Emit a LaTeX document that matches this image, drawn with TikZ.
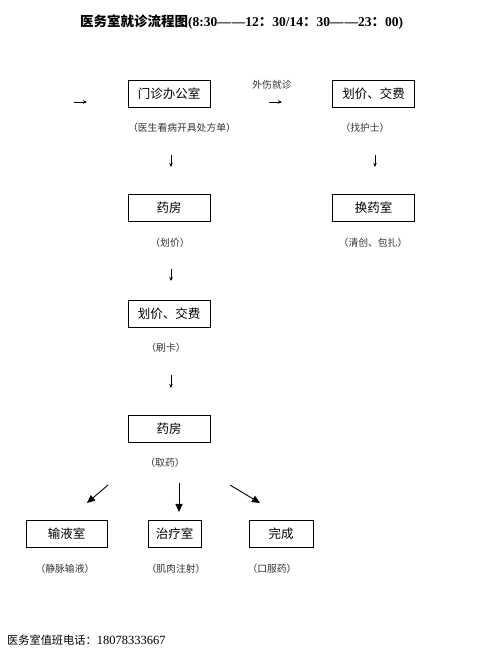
\documentclass[tikz,border=0pt]{standalone}
\usepackage{fontspec}
\setmainfont{Liberation Serif}
\newfontfamily\cjk{Noto Sans CJK SC}
\usetikzlibrary{arrows.meta}
\begin{document}
\begin{tikzpicture}[x=1pt,y=1pt,
  box/.style={draw, line width=0.8pt, minimum height=27pt, inner sep=0pt,
    font=\cjk\fontsize{12.5}{14}\selectfont},
  lbl/.style={font=\cjk\fontsize{9.8}{11}\selectfont, text=black!80, inner sep=0pt},
  sarr/.style={-{Stealth[length=4pt,width=3.5pt]}, line width=0.6pt},
  barr/.style={-{Triangle[length=8pt,width=7pt]}, line width=0.9pt}]
\useasboundingbox (0,0) rectangle (489,659);

% title
\node[anchor=west, inner sep=0pt] (title) at (80,637)
  {{\cjk\bfseries\fontsize{13.5}{15}\selectfont 医务室就诊流程图}{\bfseries\fontsize{13.5}{15}\selectfont (8:30—\kern1pt—12{\cjk ：}30/14{\cjk ：}30—\kern1pt—23{\cjk ：}00)}};

% boxes
\node[box, minimum width=82pt] (mz)  at (169,565.5) {门诊办公室};
\node[box, minimum width=82pt] (jf1) at (373.5,565.5) {划价、交费};
\node[box, minimum width=82pt] (yf1) at (169,451) {药房};
\node[box, minimum width=82pt] (hy)  at (373.5,451) {换药室};
\node[box, minimum width=82pt] (jf2) at (169,345) {划价、交费};
\node[box, minimum width=82pt] (yf2) at (169,230.5) {药房};
\node[box, minimum width=81pt] (sy)  at (66.5,125) {输液室};
\node[box, minimum width=53pt] (zl)  at (174.5,125) {治疗室};
\node[box, minimum width=64pt] (wc)  at (281,125) {完成};

% labels
\node[lbl] (l1) at (182,531) {（医生看病开具处方单）};
\node[lbl] (l2) at (365,531) {（找护士）};
\node[lbl] (ws) at (272,574) {外伤就诊};
\node[lbl] (l3) at (170,416) {（划价）};
\node[lbl] (l4) at (373,416) {（清创、包扎）};
\node[lbl] (l5) at (166,311) {（刷卡）};
\node[lbl] (l6) at (165,196) {（取药）};
\node[lbl] (l7) at (65,90) {（静脉输液）};
\node[lbl] (l8) at (176,90) {（肌肉注射）};
\node[lbl] (l9) at (272,90) {（口服药）};

% footer
\node[anchor=west, inner sep=0pt] (tel) at (7,19)
  {{\cjk\fontsize{11.2}{13}\selectfont 医务室值班电话：}{\fontsize{12.5}{14}\selectfont 18078333667}};

% small arrows
\coordinate (a1s) at (74,557); \coordinate (a1e) at (87,557);
\coordinate (a2s) at (269,557); \coordinate (a2e) at (282,557);
\coordinate (a3s) at (171,504); \coordinate (a3e) at (171,492);
\coordinate (a4s) at (375,504); \coordinate (a4e) at (375,492);
\coordinate (a5s) at (171,390); \coordinate (a5e) at (171,378);
\coordinate (a6s) at (171,284); \coordinate (a6e) at (171,271);
\draw[sarr] (a1s) -- (a1e);
\draw[sarr] (a2s) -- (a2e);
\draw[sarr] (a3s) -- (a3e);
\draw[sarr] (a4s) -- (a4e);
\draw[sarr] (a5s) -- (a5e);
\draw[sarr] (a6s) -- (a6e);

% big arrows
\coordinate (b1s) at (108,174); \coordinate (b1e) at (87,156);
\coordinate (b2s) at (179,176); \coordinate (b2e) at (179,147);
\coordinate (b3s) at (230,174); \coordinate (b3e) at (260,156);
\draw[barr] (b1s) -- (b1e);
\draw[barr] (b2s) -- (b2e);
\draw[barr] (b3s) -- (b3e);
\end{tikzpicture}
\end{document}
